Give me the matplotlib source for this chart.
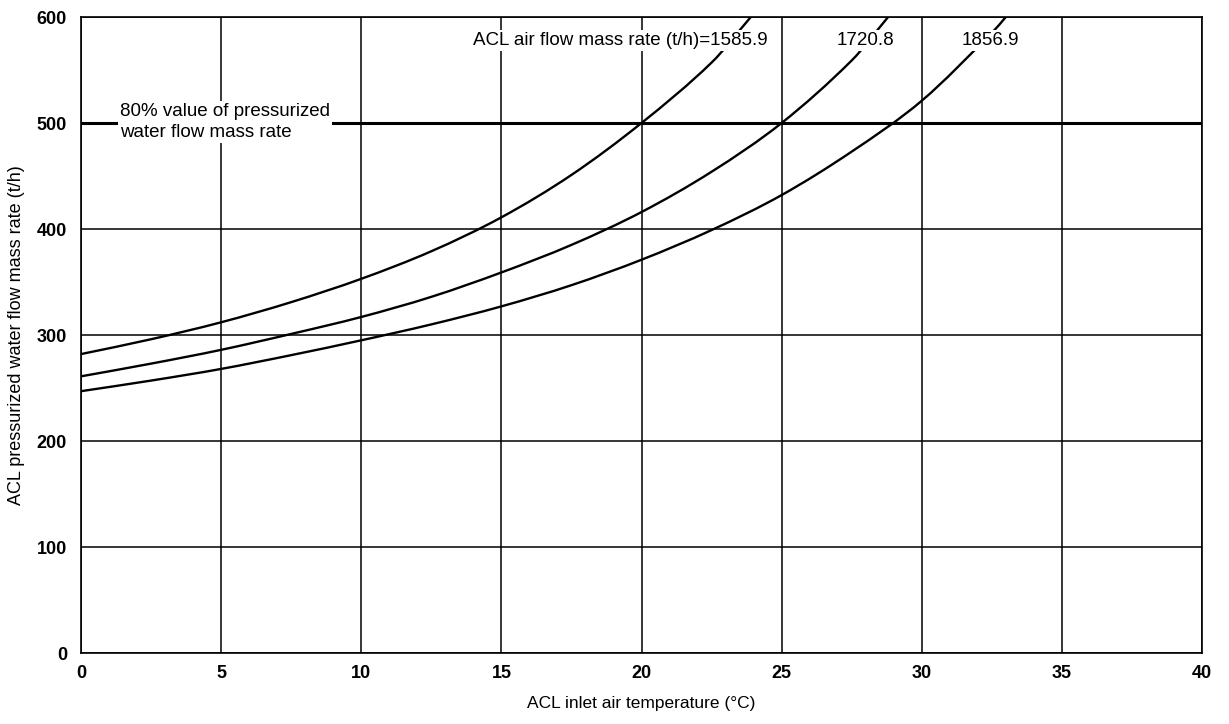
import matplotlib
matplotlib.use("Agg")
import matplotlib.pyplot as plt
from matplotlib.path import Path
from matplotlib.patches import PathPatch

# ACL inlet air temperature (°C) and pressurized water flow mass rate (t/h)
temp_1585 = [0, 2.5, 5, 7.5, 10, 12.5, 15, 17.5, 20, 22.5, 23.9]
flow_1585 = [282, 296, 312, 331, 353, 379, 411, 451, 500, 557, 600]

temp_1720 = [0, 2.5, 5, 7.5, 10, 12.5, 15, 17.5, 20, 22.5, 25, 27.5, 28.8]
flow_1720 = [261, 273, 286, 301, 317, 336, 359, 385, 416, 454, 500, 559, 600]

temp_1856 = [0, 2.5, 5, 7.5, 10, 12.5, 15, 17.5, 20, 22.5, 25, 27.5, 30, 32.5, 33.0]
flow_1856 = [247, 257, 268, 281, 295, 310, 327, 347, 371, 399, 432, 473, 521, 585, 600]

limit_80pct = 500
x_ticks = [0, 5, 10, 15, 20, 25, 30, 35, 40]
y_ticks = [0, 100, 200, 300, 400, 500, 600]

plt.rcParams['font.family'] = ['Liberation Sans', 'DejaVu Sans']


def smooth_path(xs, ys):
    """Cubic Hermite (Bezier) path through the given points."""
    n = len(xs)
    slopes = []
    for i in range(n):
        if i == 0:
            m = (ys[1] - ys[0]) / (xs[1] - xs[0])
        elif i == n - 1:
            m = (ys[-1] - ys[-2]) / (xs[-1] - xs[-2])
        else:
            m = (ys[i + 1] - ys[i - 1]) / (xs[i + 1] - xs[i - 1])
        slopes.append(m)
    verts = [(xs[0], ys[0])]
    codes = [Path.MOVETO]
    for i in range(n - 1):
        h = xs[i + 1] - xs[i]
        verts += [(xs[i] + h / 3, ys[i] + slopes[i] * h / 3),
                  (xs[i + 1] - h / 3, ys[i + 1] - slopes[i + 1] * h / 3),
                  (xs[i + 1], ys[i + 1])]
        codes += [Path.CURVE4] * 3
    return Path(verts, codes)


fig = plt.figure(figsize=(12.29, 7.24), dpi=100)
ax = fig.add_axes([81 / 1229, 71 / 724, (1202 - 81) / 1229, (653 - 17) / 724])

ax.set_xlim(0, 40)
ax.set_ylim(0, 600)
ax.set_xticks(x_ticks)
ax.set_yticks(y_ticks)
ax.grid(True, color='black', linewidth=1.1)
ax.set_axisbelow(True)
ax.tick_params(axis='x', length=0, pad=9, labelsize=13)
ax.tick_params(axis='y', length=0, pad=10, labelsize=13)
for lab in ax.get_xticklabels() + ax.get_yticklabels():
    lab.set_fontweight('bold')
for sp in ax.spines.values():
    sp.set_linewidth(1.2)

ax.axhline(limit_80pct, color='black', linewidth=2.2, zorder=2)

for t, f in [(temp_1585, flow_1585), (temp_1720, flow_1720), (temp_1856, flow_1856)]:
    ax.add_patch(PathPatch(smooth_path(t, f), facecolor='none', edgecolor='black',
                           linewidth=1.7, zorder=3))

box = dict(facecolor='white', edgecolor='none', pad=1.5)
ax.text(1.39, 501, '80% value of pressurized\nwater flow mass rate', fontsize=13.5,
        ha='left', va='center', linespacing=1.3, bbox=box, zorder=4)
ax.text(14.0, 578, 'ACL air flow mass rate (t/h)=1585.9', fontsize=13.5,
        ha='left', va='center', bbox=box, zorder=4)
ax.text(26.97, 578, '1720.8', fontsize=13.5, ha='left', va='center', bbox=box, zorder=4)
ax.text(31.43, 578, '1856.9', fontsize=13.5, ha='left', va='center', bbox=box, zorder=4)

ax.set_xlabel('ACL inlet air temperature (°C)', fontsize=12.5, labelpad=10)
ax.set_ylabel('ACL pressurized water flow mass rate (t/h)', fontsize=13)
ax.yaxis.set_label_coords(-0.05, 0.5)

fig.savefig('out.png', dpi=100)
